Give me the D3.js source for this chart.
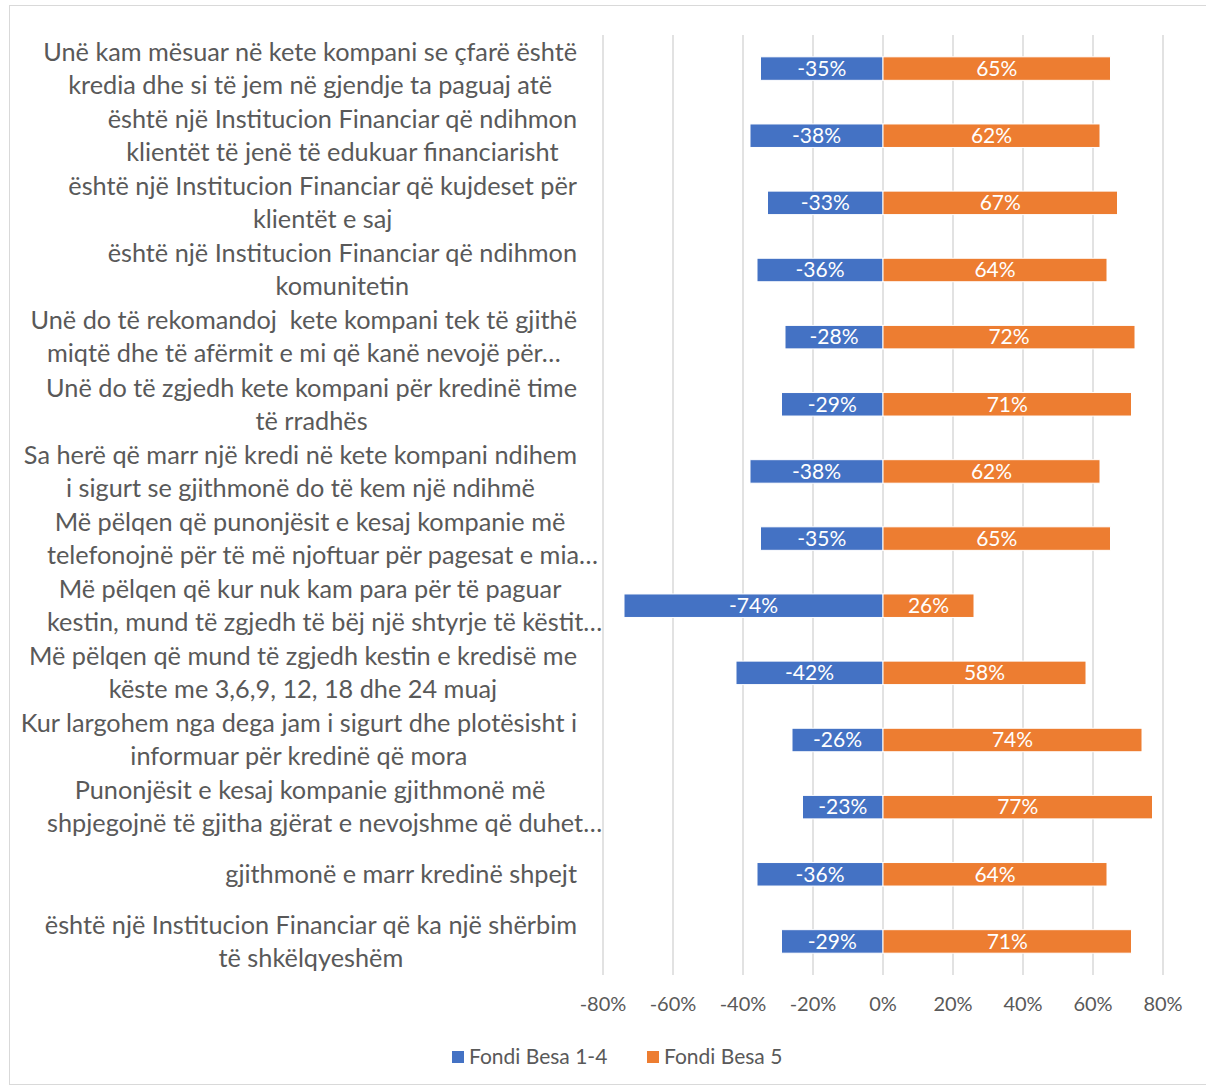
<!DOCTYPE html>
<html>
<head>
<meta charset="utf-8">
<script src="https://cdn.jsdelivr.net/npm/d3@7"></script>
<style>
  body { margin: 0; background: #fff; }
  svg { display: block; font-family: Lato, "Open Sans", sans-serif; }
  text { white-space: pre; }
</style>
</head>
<body>
<svg id="chart" width="1206" height="1087"></svg>
<script>
// ---- data ----
const labels = [
  ["Unë kam mësuar në kete kompani se çfarë është", "kredia dhe si të jem në gjendje ta paguaj atë"],
  ["është një Institucion Financiar që ndihmon", "klientët të jenë të edukuar financiarisht"],
  ["është një Institucion Financiar që kujdeset për", "klientët e saj"],
  ["është një Institucion Financiar që ndihmon", "komunitetin"],
  ["Unë do të rekomandoj  kete kompani tek të gjithë", "miqtë dhe të afërmit e mi që kanë nevojë për…"],
  ["Unë do të zgjedh kete kompani për kredinë time", "të rradhës"],
  ["Sa herë që marr një kredi në kete kompani ndihem", "i sigurt se gjithmonë do të kem një ndihmë"],
  ["Më pëlqen që punonjësit e kesaj kompanie më", "telefonojnë për të më njoftuar për pagesat e mia…"],
  ["Më pëlqen që kur nuk kam para për të paguar", "kestin, mund të zgjedh të bëj një shtyrje të këstit…"],
  ["Më pëlqen që mund të zgjedh kestin e kredisë me", "këste me 3,6,9, 12, 18 dhe 24 muaj"],
  ["Kur largohem nga dega jam i sigurt dhe plotësisht i", "informuar për kredinë që mora"],
  ["Punonjësit e kesaj kompanie gjithmonë më", "shpjegojnë të gjitha gjërat e nevojshme që duhet…"],
  ["gjithmonë e marr kredinë shpejt"],
  ["është një Institucion Financiar që ka një shërbim", "të shkëlqyeshëm"]
];
const besa14 = [-35, -38, -33, -36, -28, -29, -38, -35, -74, -42, -26, -23, -36, -29];
const besa5  = [65, 62, 67, 64, 72, 71, 62, 65, 26, 58, 74, 77, 64, 71];
const ticks = [-80, -60, -40, -20, 0, 20, 40, 60, 80];
const seriesNames = ["Fondi Besa 1-4", "Fondi Besa 5"];
const colors = ["#4472C4", "#ED7D31"];

const svg = d3.select("#chart");
const textColor = "#595959";

// outer frame
svg.append("rect")
  .attr("x", 9.5).attr("y", 5.5)
  .attr("width", 1206).attr("height", 1079)
  .attr("fill", "none").attr("stroke", "#d9d9d9");

const x = d3.scaleLinear().domain([-80, 80]).range([603, 1163]);
const y = d3.scaleBand()
  .domain(d3.range(labels.length))
  .range([35, 975])
  .paddingInner(0.65)
  .paddingOuter(0.325);

// gridlines
svg.append("g").selectAll("line")
  .data(ticks).join("line")
  .attr("x1", d => x(d)).attr("x2", d => x(d))
  .attr("y1", 35).attr("y2", 975)
  .attr("stroke", "#d9d9d9").attr("stroke-width", 1.5);

// tick labels
svg.append("g").selectAll("text")
  .data(ticks).join("text")
  .attr("x", d => x(d)).attr("y", 1011)
  .attr("text-anchor", "middle")
  .attr("fill", textColor)
  .style("font-size", "20px")
  .text(d => d + "%");

// bars
const rows = d3.range(labels.length);
[besa14, besa5].forEach((vals, s) => {
  const g = svg.append("g");
  g.selectAll("rect")
    .data(rows).join("rect")
    .attr("x", i => x(Math.min(0, vals[i])))
    .attr("y", i => y(i))
    .attr("width", i => Math.abs(x(vals[i]) - x(0)))
    .attr("height", y.bandwidth())
    .attr("fill", colors[s])
    .attr("stroke", "#fff").attr("stroke-width", 1);
  g.selectAll("text")
    .data(rows).join("text")
    .attr("x", i => (x(vals[i]) + x(0)) / 2)
    .attr("y", i => y(i) + y.bandwidth() / 2)
    .attr("dy", "0.35em")
    .attr("text-anchor", "middle")
    .attr("fill", "#fff")
    .style("font-size", "21px")
    .text(i => vals[i] + "%");
});

// category labels: each block right-aligned to the axis, lines centered inside
const labelRight = 577, lineGap = 33, cap = 534, minLeft = 47;
const lab = svg.append("g").attr("fill", textColor).style("font-size", "22px");
// fit font size so the first line matches the reference width
const probe = lab.append("text").text(labels[0][0]);
const fs = 22 * cap / probe.node().getComputedTextLength();
probe.remove();
lab.style("font-size", fs + "px");

labels.forEach((lines, i) => {
  const cy = y(i) + y.bandwidth() / 2;
  const texts = lines.map((t, k) => lab.append("text")
    .attr("y", cy + (k - (lines.length - 1) / 2) * lineGap)
    .attr("dy", "0.35em")
    .attr("text-anchor", "middle")
    .text(t));
  const full = texts.filter((t, k) => !lines[k].endsWith("…"));
  const truncated = full.length < texts.length;
  let bw = d3.max(full, t => t.node().getComputedTextLength()) || 0;
  if (truncated) bw = Math.max(bw, cap);
  const cx = labelRight - bw / 2;
  texts.forEach((t, k) => {
    const tw = t.node().getComputedTextLength();
    t.attr("x", lines[k].endsWith("…") ? Math.max(cx, minLeft + tw / 2) : cx);
  });
});

// legend
const legend = svg.append("g").style("font-size", "21px").attr("fill", textColor);
const legX = [452, 647];
seriesNames.forEach((name, s) => {
  legend.append("rect")
    .attr("x", legX[s]).attr("y", 1051)
    .attr("width", 12).attr("height", 12)
    .attr("fill", colors[s]);
  legend.append("text")
    .attr("x", legX[s] + 17).attr("y", 1057)
    .attr("dy", "0.35em")
    .text(name);
});
</script>
</body>
</html>
